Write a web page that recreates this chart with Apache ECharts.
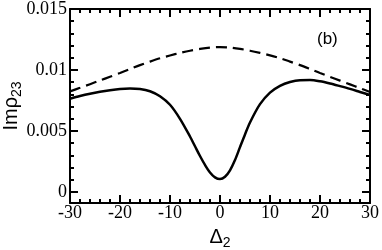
<!DOCTYPE html>
<html><head><meta charset="utf-8">
<script src="https://cdn.jsdelivr.net/npm/echarts@6/dist/echarts.min.js"></script>
<style>html,body{margin:0;padding:0;background:#fff}#c{width:382px;height:250px}</style>
</head><body><div id="c"></div>
<script>
var solidX = [-30,-28,-26,-24,-22,-20,-18,-16,-14,-12,-10,-8,-6,-5,-4,-3,-2,-1,0,1,2,3,4,5,6,8,10,12,14,16,18,20,22,24,26,28,30];
var solidY = [0.00765,0.00787,0.00806,0.00822,0.00835,0.00845,0.00849,0.00845,0.00826,0.00785,0.00715,0.00600,0.00455,0.00375,0.00295,0.00222,0.00160,0.00120,0.00106,0.00125,0.00178,0.00262,0.00368,0.00472,0.00570,0.00720,0.00815,0.00870,0.00902,0.00917,0.00918,0.00908,0.00890,0.00868,0.00845,0.00820,0.00795];
var dashX = [-30,-28,-26,-24,-22,-20,-18,-16,-14,-12,-10,-8,-6,-4,-2,0,2,4,6,8,10,12,14,16,18,20,22,24,26,28,30];
var dashY = [0.00825,0.00854,0.00884,0.00914,0.00945,0.00976,0.01008,0.01040,0.01069,0.01096,0.01119,0.01140,0.01158,0.01173,0.01184,0.01188,0.01184,0.01173,0.01158,0.01140,0.01120,0.01097,0.01069,0.01040,0.01008,0.00975,0.00944,0.00913,0.00882,0.00851,0.00820];
var yMajor = [0, 0.005, 0.01, 0.015];
var yMinor = [0.001,0.002,0.003,0.004,0.006,0.007,0.008,0.009,0.011,0.012,0.013,0.014];
var yLabels = ['0','0.005','0.01','0.015'];
var xMin = -30, xMax = 30, xStep = 10;
var yMin = -0.0009, yMax = 0.015;

function zip(a,b){return a.map(function(v,i){return [v,b[i]];});}
var serif = '"Liberation Serif","Times New Roman",serif';
var sans = '"Liberation Sans",Arial,sans-serif';

var chart = echarts.init(document.getElementById('c'), null, {renderer:'canvas'});
function xAx(pos, show){
  return {type:'value', position:pos, min:xMin, max:xMax, interval:xStep,
    axisLine:{show:true, onZero:false, lineStyle:{color:'#000', width:2}},
    axisTick:{show:true, inside:true, length:8, lineStyle:{color:'#000', width:2}},
    minorTick:{show:true, splitNumber:5, length:4, lineStyle:{color:'#000', width:2}},
    splitLine:{show:false},
    axisLabel:{show:show, color:'#000', fontFamily:serif, fontSize:18, margin:1,
      formatter:function(v){return String(v);}},
    name: show ? '{a|Δ}{s|2}' : '', nameLocation:'middle', nameGap:21, nameMoveOverlap:false,
    nameTextStyle:{rich:{a:{fontFamily:sans, fontSize:20, color:'#000'}, s:{fontFamily:sans, fontSize:14, color:'#000', padding:[12,0,0,0]}}}
  };
}
function yAx(pos, vals, len, labels, line){
  return {type:'value', position:pos, min:yMin, max:yMax,
    axisLine:{show:line, onZero:false, lineStyle:{color:'#000', width:2}},
    axisTick:{show:true, inside:true, length:len, customValues:vals, lineStyle:{color:'#000', width:2}},
    splitLine:{show:false},
    axisLabel:{show:!!labels, customValues:vals, color:'#000', fontFamily:serif, fontSize:18, margin:3,
      formatter:function(v){var i=yMajor.indexOf(v); return i>=0?yLabels[i]:'';}},
    name: labels ? '{a|Imρ}{s|23}' : '', nameLocation:'middle', nameGap:46, nameRotate:90, nameMoveOverlap:false,
    nameTextStyle:{rich:{a:{fontFamily:sans, fontSize:20, color:'#000'}, s:{fontFamily:sans, fontSize:14, color:'#000', padding:[12,0,0,0]}}}
  };
}
chart.setOption({
  animation:false,
  grid:{left:70, right:12, top:9, bottom:47, containLabel:false, outerBoundsMode:'none'},
  xAxis:[xAx('bottom', true), xAx('top', false)],
  yAxis:[yAx('left', yMajor, 8, true, true), yAx('left', yMinor, 4, false, false),
         yAx('right', yMajor, 8, false, true), yAx('right', yMinor, 4, false, false)],
  graphic:[{type:'text', left:317, top:31, style:{text:'(b)', font:'17px "Liberation Sans", Arial, sans-serif', fill:'#000'}}],
  series:[
    {type:'line', data:zip(dashX,dashY), smooth:0.3, showSymbol:false, symbol:'none',
      lineStyle:{color:'#000', width:2.2, type:[11,6]}},
    {type:'line', data:zip(solidX,solidY), smooth:0.3, showSymbol:false, symbol:'none',
      lineStyle:{color:'#000', width:2.5}}
  ]
});
</script></body></html>
